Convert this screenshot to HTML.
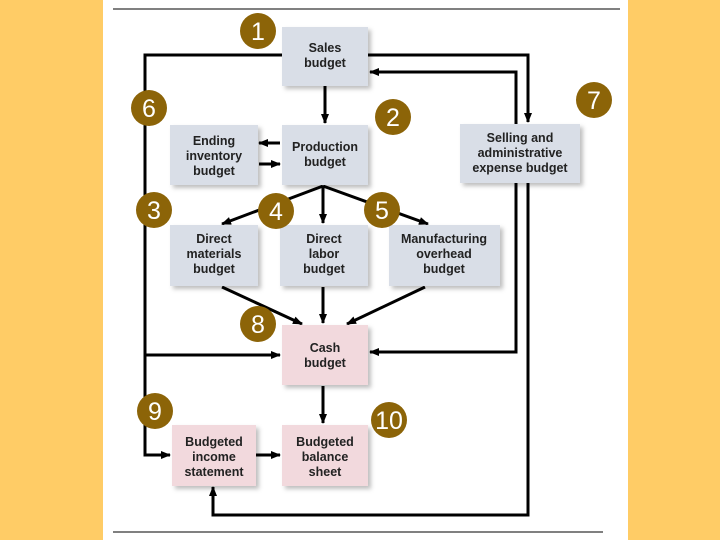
<!DOCTYPE html>
<html><head><style>
html,body{margin:0;padding:0;width:720px;height:540px;overflow:hidden;background:#FFCC66;}
svg{display:block}
text{font-family:"Liberation Sans",sans-serif;}
.b{font-weight:bold;font-size:12.5px;fill:#222;text-anchor:middle}
.n{font-size:25px;fill:#fff;text-anchor:middle}
</style></head><body>
<svg width="720" height="540" viewBox="0 0 720 540">
<defs>
<marker id="a" markerWidth="10" markerHeight="8" refX="9" refY="4" orient="auto" markerUnits="userSpaceOnUse">
<path d="M0,0 L10,4 L0,8 Z" fill="#000"/></marker>
<filter id="s" x="-10%" y="-10%" width="130%" height="130%"><feDropShadow dx="3" dy="3" stdDeviation="2" flood-color="#000" flood-opacity="0.25"/></filter>
</defs>
<rect x="103" y="0" width="525" height="540" fill="#fff"/>
<line x1="113" y1="9" x2="620" y2="9" stroke="#000" stroke-width="1"/>
<line x1="113" y1="532" x2="603" y2="532" stroke="#000" stroke-width="1"/>
<g stroke="#000" stroke-width="3" fill="none">
<polyline points="282,55 145,55 145,455 170,455" marker-end="url(#a)"/>
<line x1="145" y1="355" x2="280" y2="355" marker-end="url(#a)"/>
<polyline points="368,55 528,55 528,122" marker-end="url(#a)"/>
<polyline points="516,124 516,72 370,72" marker-end="url(#a)"/>
<polyline points="516,183 516,352 370,352" marker-end="url(#a)"/>
<polyline points="528,183 528,515 213,515 213,487" marker-end="url(#a)"/>
<line x1="325" y1="86" x2="325" y2="123" marker-end="url(#a)"/>
<line x1="280" y1="143" x2="259" y2="143" marker-end="url(#a)"/>
<line x1="259" y1="164" x2="280" y2="164" marker-end="url(#a)"/>
<line x1="323" y1="186" x2="222" y2="224" marker-end="url(#a)"/>
<line x1="323" y1="186" x2="323" y2="223" marker-end="url(#a)"/>
<line x1="323" y1="186" x2="428" y2="224" marker-end="url(#a)"/>
<line x1="222" y1="287" x2="302" y2="324" marker-end="url(#a)"/>
<line x1="323" y1="287" x2="323" y2="323" marker-end="url(#a)"/>
<line x1="425" y1="287" x2="347" y2="324" marker-end="url(#a)"/>
<line x1="323" y1="386" x2="323" y2="423" marker-end="url(#a)"/>
<line x1="256" y1="455" x2="280" y2="455" marker-end="url(#a)"/>
</g>
<g filter="url(#s)">
<rect x="282" y="27" width="86" height="59" fill="#D9DEE7"/>
<rect x="282" y="125" width="86" height="60" fill="#D9DEE7"/>
<rect x="170" y="125" width="88" height="60" fill="#D9DEE7"/>
<rect x="460" y="124" width="120" height="59" fill="#D9DEE7"/>
<rect x="170" y="225" width="88" height="61" fill="#D9DEE7"/>
<rect x="280" y="225" width="88" height="61" fill="#D9DEE7"/>
<rect x="389" y="225" width="111" height="61" fill="#D9DEE7"/>
<rect x="282" y="325" width="86" height="60" fill="#F2D9DD"/>
<rect x="172" y="425" width="84" height="61" fill="#F2D9DD"/>
<rect x="282" y="425" width="86" height="61" fill="#F2D9DD"/>
</g>
<text class="b" x="325" y="52">Sales</text><text class="b" x="325" y="67">budget</text>
<text class="b" x="325" y="151">Production</text><text class="b" x="325" y="166">budget</text>
<text class="b" x="214" y="145">Ending</text><text class="b" x="214" y="160">inventory</text><text class="b" x="214" y="175">budget</text>
<text class="b" x="520" y="142">Selling and</text><text class="b" x="520" y="157">administrative</text><text class="b" x="520" y="172">expense budget</text>
<text class="b" x="214" y="243">Direct</text><text class="b" x="214" y="258">materials</text><text class="b" x="214" y="273">budget</text>
<text class="b" x="324" y="243">Direct</text><text class="b" x="324" y="258">labor</text><text class="b" x="324" y="273">budget</text>
<text class="b" x="444" y="243">Manufacturing</text><text class="b" x="444" y="258">overhead</text><text class="b" x="444" y="273">budget</text>
<text class="b" x="325" y="352">Cash</text><text class="b" x="325" y="367">budget</text>
<text class="b" x="214" y="446">Budgeted</text><text class="b" x="214" y="461">income</text><text class="b" x="214" y="476">statement</text>
<text class="b" x="325" y="446">Budgeted</text><text class="b" x="325" y="461">balance</text><text class="b" x="325" y="476">sheet</text>
<g fill="#8C6408">
<circle cx="258" cy="31" r="18"/><circle cx="149" cy="108" r="18"/><circle cx="393" cy="117" r="18"/>
<circle cx="594" cy="100" r="18"/><circle cx="154" cy="210" r="18"/><circle cx="276" cy="211" r="18"/>
<circle cx="382" cy="210" r="18"/><circle cx="258" cy="324" r="18"/><circle cx="155" cy="411" r="18"/>
<circle cx="389" cy="420" r="18"/>
</g>
<text class="n" x="258" y="40">1</text><text class="n" x="149" y="117">6</text><text class="n" x="393" y="126">2</text>
<text class="n" x="594" y="109">7</text><text class="n" x="154" y="219">3</text><text class="n" x="276" y="220">4</text>
<text class="n" x="382" y="219">5</text><text class="n" x="258" y="333">8</text><text class="n" x="155" y="420">9</text>
<text class="n" x="389" y="429">10</text>
</svg>
</body></html>
